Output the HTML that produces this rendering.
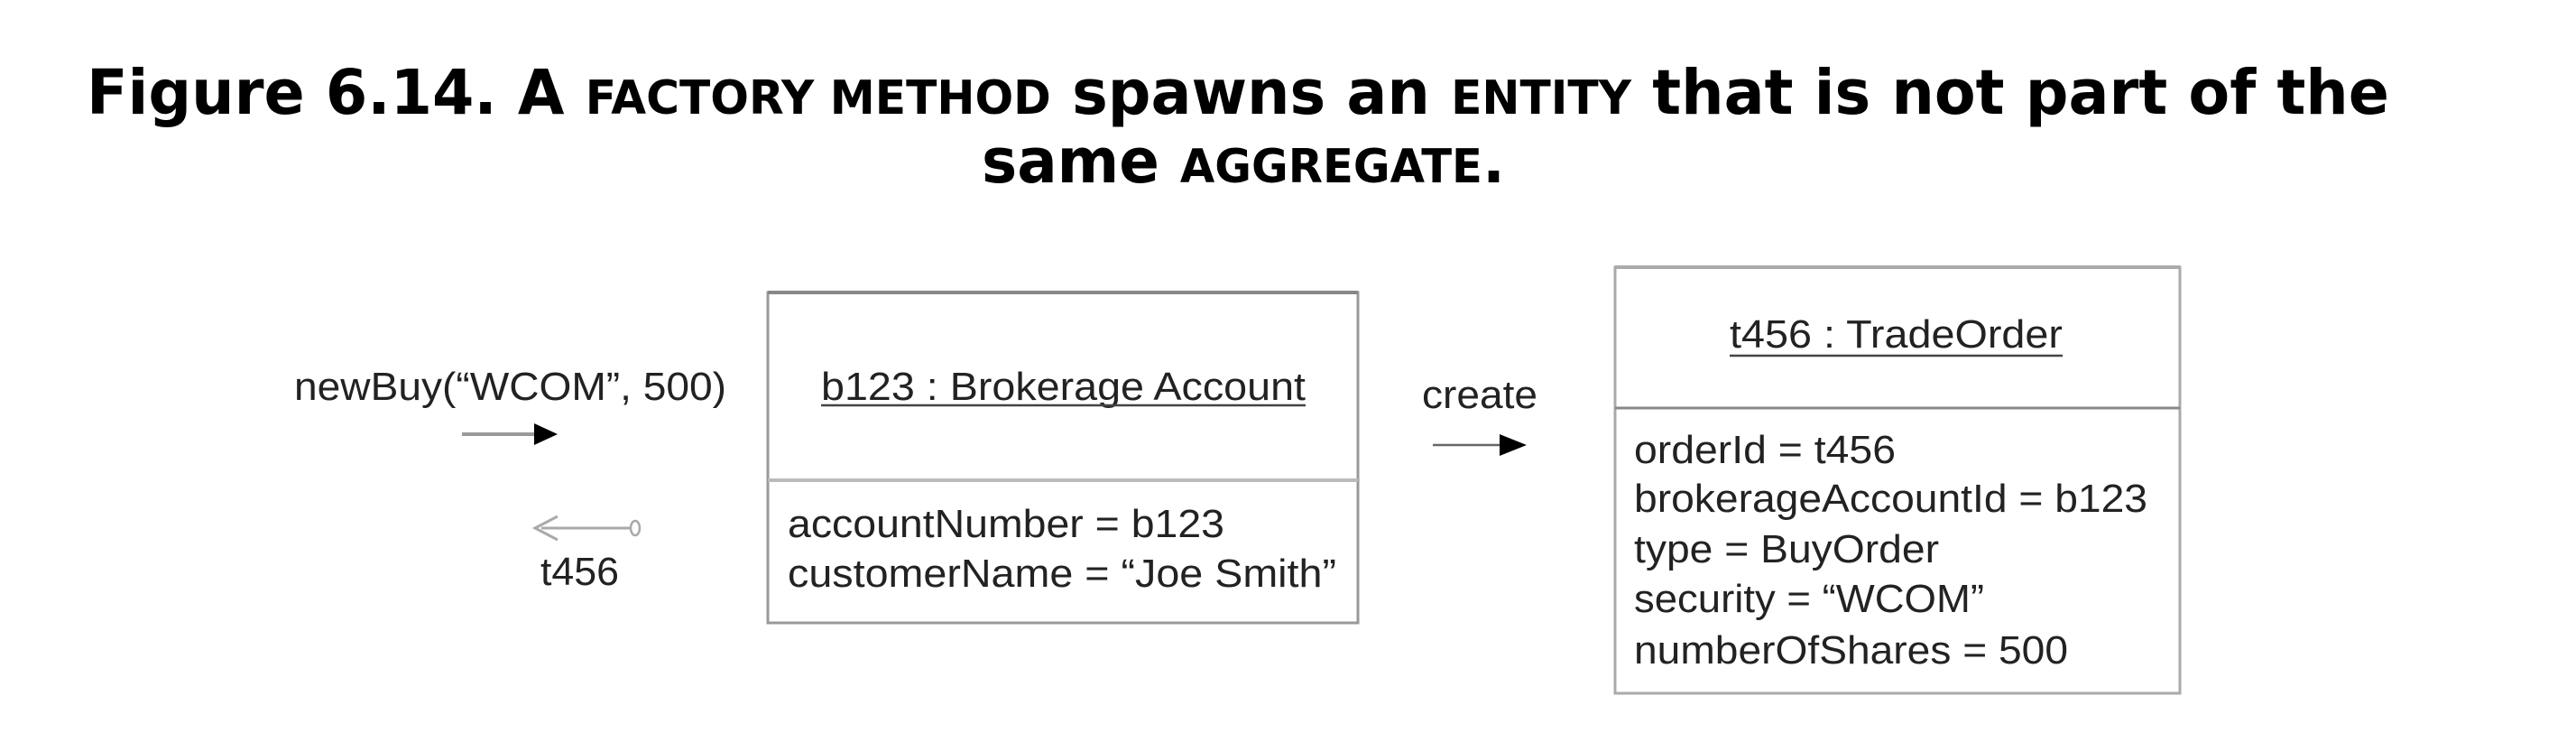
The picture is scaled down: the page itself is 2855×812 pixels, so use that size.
<!DOCTYPE html>
<html><head><meta charset="utf-8"><style>
html,body{margin:0;padding:0;background:#fff;}
svg{display:block;}
</style></head><body>
<svg width="2855" height="812" viewBox="0 0 2855 812" xmlns="http://www.w3.org/2000/svg">
<g font-family="'DejaVu Sans', sans-serif" font-weight="bold" fill="#000">
<text x="96" y="126" font-size="69" textLength="2552" lengthAdjust="spacingAndGlyphs">Figure 6.14. A <tspan font-size="52">FACTORY METHOD</tspan> spawns an <tspan font-size="52">ENTITY</tspan> that is not part of the</text>
<text x="1088" y="202" font-size="69" textLength="580" lengthAdjust="spacingAndGlyphs">same <tspan font-size="52">AGGREGATE</tspan>.</text>
</g>
<g font-family="'Liberation Sans', Arial, sans-serif" font-size="44" fill="#222">
<rect x="851" y="324" width="654" height="366" fill="#fff" stroke="#999" stroke-width="3"/>
<line x1="851" y1="324" x2="1505" y2="324" stroke="#888" stroke-width="4"/>
<line x1="851" y1="532" x2="1505" y2="532" stroke="#bbb" stroke-width="4"/>
<text x="910" y="443" textLength="537" lengthAdjust="spacingAndGlyphs">b123 : Brokerage Account</text>
<line x1="910" y1="449" x2="1447" y2="449" stroke="#444" stroke-width="2.5"/>
<text x="873" y="595" textLength="484" lengthAdjust="spacingAndGlyphs">accountNumber = b123</text>
<text x="873" y="650" textLength="608" lengthAdjust="spacingAndGlyphs">customerName = “Joe Smith”</text>
<text x="326" y="443" textLength="479" lengthAdjust="spacingAndGlyphs">newBuy(“WCOM”, 500)</text>
<line x1="512" y1="481" x2="596" y2="481" stroke="#999" stroke-width="4"/>
<polygon points="592,469 618,481 592,493" fill="#000"/>
<line x1="600" y1="585" x2="700" y2="585" stroke="#aaa" stroke-width="3"/>
<polyline points="618,572 593,585 618,598" fill="none" stroke="#aaa" stroke-width="3"/>
<ellipse cx="704" cy="585" rx="5" ry="8" fill="#fff" stroke="#aaa" stroke-width="2.5"/>
<text x="599" y="648" textLength="87" lengthAdjust="spacingAndGlyphs">t456</text>
<text x="1576" y="452" textLength="128" lengthAdjust="spacingAndGlyphs">create</text>
<line x1="1588" y1="493" x2="1666" y2="493" stroke="#666" stroke-width="2.5"/>
<polygon points="1662,481 1692,493 1662,505" fill="#000"/>
<rect x="1790" y="296" width="626" height="472" fill="#fff" stroke="#aaa" stroke-width="3"/>
<line x1="1790" y1="296" x2="2416" y2="296" stroke="#aaa" stroke-width="4"/>
<line x1="1790" y1="452" x2="2416" y2="452" stroke="#888" stroke-width="3"/>
<text x="1917" y="385" textLength="369" lengthAdjust="spacingAndGlyphs">t456 : TradeOrder</text>
<line x1="1917" y1="394" x2="2286" y2="394" stroke="#444" stroke-width="2.5"/>
<text x="1811" y="513" textLength="290" lengthAdjust="spacingAndGlyphs">orderId = t456</text>
<text x="1811" y="567" textLength="569" lengthAdjust="spacingAndGlyphs">brokerageAccountId = b123</text>
<text x="1811" y="623" textLength="338" lengthAdjust="spacingAndGlyphs">type = BuyOrder</text>
<text x="1811" y="678" textLength="388" lengthAdjust="spacingAndGlyphs">security = “WCOM”</text>
<text x="1811" y="735" textLength="481" lengthAdjust="spacingAndGlyphs">numberOfShares = 500</text>
</g>
</svg>
</body></html>
